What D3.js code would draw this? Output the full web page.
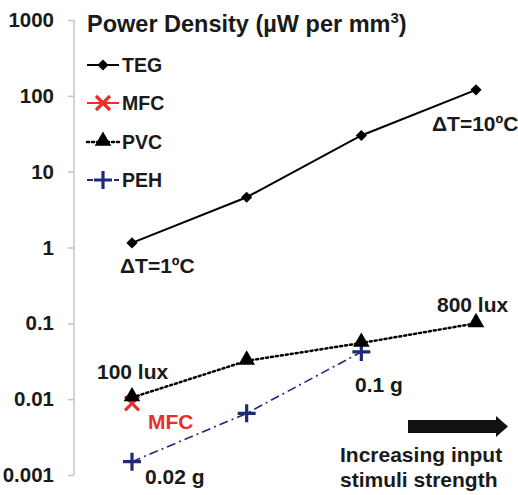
<!DOCTYPE html>
<html>
<head>
<meta charset="utf-8">
<script src="https://cdn.jsdelivr.net/npm/d3@7"></script>
<style>
  body { margin: 0; background: #fff; }
  text { font-family: "Liberation Sans", Arial, sans-serif; font-weight: bold; }
</style>
</head>
<body>
<div id="chart"></div>
<script>
// data
var steps = [1, 2, 3, 4];              // input stimuli strength positions
var tegValues = [1.15, 4.6, 30, 120];
var mfcValues = [0.0088];
var pvcValues = [0.0105, 0.032, 0.055, 0.1];
var pehValues = [0.0015, 0.0065, 0.042];
var yTicks = [1000, 100, 10, 1, 0.1, 0.01, 0.001];
var yTickLabels = ["1000", "100", "10", "1", "0.1", "0.01", "0.001"];

var width = 518, height = 495;

var svg = d3.select("#chart").append("svg")
    .attr("width", width)
    .attr("height", height);

var x = d3.scaleLinear().domain([1, 4]).range([132, 476]);
var y = d3.scaleLog().domain([0.001, 1000]).range([475, 20]);

// y axis
var yAxis = svg.append("g")
    .attr("transform", "translate(74,0)")
    .call(d3.axisLeft(y).tickValues(yTicks).tickSize(6).tickPadding(14)
        .tickFormat(function(d, i) { return yTickLabels[i]; }));
yAxis.select(".domain").attr("stroke", "#c4c4c4").attr("stroke-width", 1.5)
    .attr("d", "M0," + y(1000) + "V" + y(0.001));
yAxis.selectAll(".tick line").attr("stroke", "#c4c4c4").attr("stroke-width", 1.5);
yAxis.selectAll(".tick text").attr("font-size", 20.5).attr("fill", "#1a1a1a")
    .attr("font-family", "'Liberation Sans', Arial, sans-serif").attr("font-weight", "bold");

var series = [
  {name: "TEG", values: tegValues, color: "#000", dash: null, width: 2, marker: "diamond"},
  {name: "MFC", values: mfcValues, color: "#e8302a", dash: null, width: 2, marker: "x"},
  {name: "PVC", values: pvcValues, color: "#000", dash: "2,3", width: 2.5, marker: "triangle"},
  {name: "PEH", values: pehValues, color: "#1e2a78", dash: "9,4,2,4", width: 1.6, marker: "plus"}
];

var line = d3.line()
    .x(function(d, i) { return x(steps[i]); })
    .y(function(d) { return y(d); });

function drawMarker(g, type, cx, cy, color) {
  if (type === "diamond") {
    g.append("path").attr("d", d3.symbol().type(d3.symbolDiamond2).size(80)())
      .attr("transform", "translate(" + cx + "," + cy + ")")
      .attr("fill", "#000");
  } else if (type === "triangle") {
    g.append("path").attr("d", d3.symbol().type(d3.symbolTriangle).size(120)())
      .attr("transform", "translate(" + cx + "," + (cy - 1) + ")")
      .attr("fill", "#000");
  } else if (type === "plus") {
    g.append("path").attr("d", "M" + (cx - 9) + "," + cy + "H" + (cx + 9) + "M" + cx + "," + (cy - 9) + "V" + (cy + 9))
      .attr("stroke", color).attr("stroke-width", 3.2).attr("fill", "none");
  } else if (type === "x") {
    g.append("path").attr("d", "M" + (cx - 7) + "," + (cy - 7) + "L" + (cx + 7) + "," + (cy + 7) +
        "M" + (cx + 7) + "," + (cy - 7) + "L" + (cx - 7) + "," + (cy + 7))
      .attr("stroke", color).attr("stroke-width", 3.2).attr("fill", "none");
  }
}

// lines and markers, drawn back to front
var order = ["MFC", "PEH", "PVC", "TEG"];
order.forEach(function(nm) {
  var s = series.find(function(d) { return d.name === nm; });
  var g = svg.append("g");
  if (s.values.length > 1) {
    g.append("path").datum(s.values)
      .attr("d", line)
      .attr("fill", "none")
      .attr("stroke", s.color)
      .attr("stroke-width", s.width)
      .attr("stroke-dasharray", s.dash)
      .attr("stroke-linecap", s.dash === "2,3" ? "round" : "butt");
  }
  s.values.forEach(function(v, i) {
    drawMarker(g, s.marker, x(steps[i]), y(v), s.color);
  });
});

// title
var title = svg.append("text").attr("x", 87).attr("y", 32).attr("font-size", 23.5).attr("fill", "#1a1a1a");
title.append("tspan").text("Power Density (\u00b5W per mm");
title.append("tspan").text("3").attr("font-size", 15).attr("dy", -9);
title.append("tspan").text(")").attr("dy", 9);

// legend
var legendY = [65, 103, 142, 180];
series.forEach(function(s, i) {
  var g = svg.append("g");
  var ly = legendY[i];
  g.append("line").attr("x1", 87).attr("x2", 119).attr("y1", ly).attr("y2", ly)
    .attr("stroke", s.color).attr("stroke-width", s.name === "PVC" ? 2.5 : 2)
    .attr("stroke-dasharray", s.name === "PVC" ? "2,3" : (s.name === "PEH" ? "6,3" : null))
    .attr("stroke-linecap", s.name === "PVC" ? "round" : "butt");
  drawMarker(g, s.marker, 103, ly, s.color);
  g.append("text").attr("x", 122).attr("y", ly + 7).attr("font-size", 19.5)
    .attr("fill", "#1a1a1a").text(s.name);
});

// annotations
function note(txt, tx, ty, color) {
  svg.append("text").attr("x", tx).attr("y", ty).attr("font-size", 21)
    .attr("fill", color || "#1a1a1a").text(txt);
}
note("\u0394T=1\u00baC", 120, 273);
note("\u0394T=10\u00baC", 432, 131);
note("100 lux", 97, 379);
note("800 lux", 437, 312);
note("MFC", 148, 429, "#e8302a");
note("0.02 g", 145, 484);
note("0.1 g", 355, 392);
note("Increasing input", 340, 462);
note("stimuli strength", 340, 487);

// arrow
svg.append("path")
  .attr("d", "M408,420H496V416L508,426.5L496,437V433H408Z")
  .attr("fill", "#111");
</script>
</body>
</html>
